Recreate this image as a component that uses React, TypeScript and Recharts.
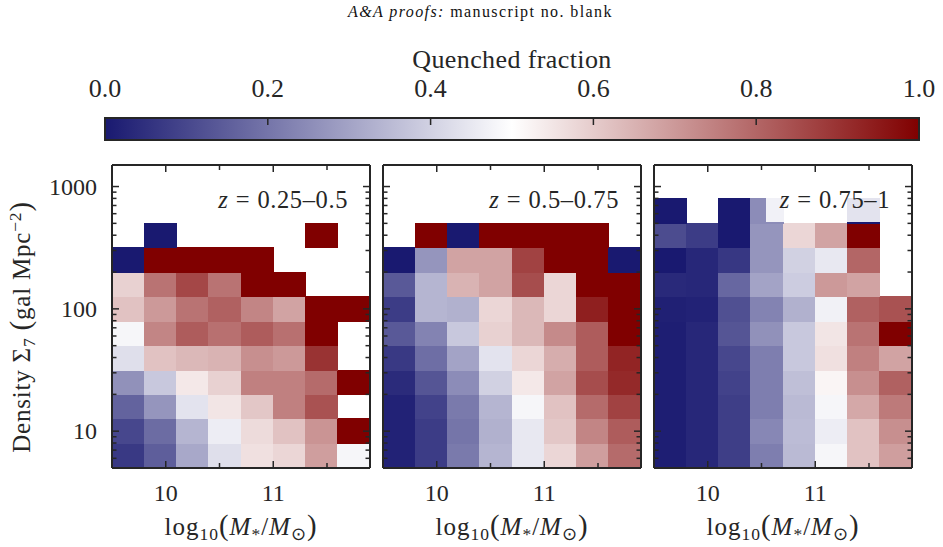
import React from 'react';
import { ComposedChart, XAxis, YAxis, ReferenceArea } from 'recharts';

const W = 943;
const H = 547;
const FONT = "'Liberation Serif', 'Times New Roman', serif";
const INK = '#262626';

// lower edges of the stellar-mass bins, log10(M*/Msun)
const massBins = [9.5, 9.8, 10.1, 10.4, 10.7, 11.0, 11.3, 11.6];
const massStep = 0.3;
const massDomain = [9.5, 11.9];
const massTicks = [10, 10.5, 11, 11.5];

// lower edges of the density bins, log10(Sigma_7 / gal Mpc^-2)
const densityBins = [0.7, 0.9, 1.1, 1.3, 1.5, 1.7, 1.9, 2.1, 2.3, 2.5, 2.7];
const densityStep = 0.2;
const densityDomain = [5, 1500];
const densityTicks = [6, 7, 8, 9, 10, 20, 30, 40, 50, 60, 70, 80, 90, 100, 200, 300, 400, 500, 600, 700, 800, 900, 1000];

// quenched fraction per bin: rows follow densityBins (low -> high), columns follow massBins
const fracZ1: (number | null)[][] = [
  [0.07, 0.15, 0.31, 0.43, 0.56, 0.58, 0.69, 0.48],
  [0.10, 0.18, 0.34, 0.46, 0.57, 0.62, 0.71, 1.00],
  [0.16, 0.27, 0.44, 0.55, 0.61, 0.75, 0.84, null],
  [0.26, 0.38, 0.545, 0.59, 0.75, 0.75, 0.79, 1.00],
  [0.43, 0.62, 0.64, 0.65, 0.72, 0.70, 0.90, null],
  [0.48, 0.74, 0.82, 0.78, 0.82, 0.78, 1.00, null],
  [0.62, 0.70, 0.775, 0.81, 0.74, 0.68, 1.00, 1.00],
  [0.59, 0.775, 0.86, 0.775, 1.00, 1.00, null, null],
  [0.00, 1.00, 1.00, 1.00, 1.00, null, null, null],
  [null, 0.00, null, null, null, null, 1.00, null],
  [null, null, null, null, null, null, null, null],
];

const fracZ2: (number | null)[][] = [
  [0.02, 0.076, 0.21, 0.34, 0.45, 0.58, 0.69, 0.79],
  [0.02, 0.076, 0.20, 0.33, 0.45, 0.61, 0.74, 0.82],
  [0.02, 0.09, 0.21, 0.34, 0.48, 0.62, 0.79, 0.87],
  [0.04, 0.13, 0.25, 0.40, 0.545, 0.68, 0.85, 0.92],
  [0.07, 0.185, 0.30, 0.44, 0.58, 0.66, 0.82, 0.93],
  [0.14, 0.23, 0.38, 0.59, 0.64, 0.73, 0.82, 1.00],
  [0.076, 0.34, 0.33, 0.58, 0.64, 0.58, 0.94, 1.00],
  [0.14, 0.34, 0.65, 0.68, 0.85, 0.58, 1.00, 1.00],
  [0.00, 0.27, 0.68, 0.68, 0.87, 1.00, 1.00, 0.00],
  [null, 1.00, 0.00, 1.00, 1.00, 1.00, 1.00, null],
  [null, null, null, null, null, null, null, null],
];

const fracZ3: (number | null)[][] = [
  [0.01, 0.03, 0.08, 0.22, 0.35, 0.48, 0.62, 0.69],
  [0.01, 0.03, 0.08, 0.24, 0.355, 0.46, 0.62, 0.72],
  [0.01, 0.03, 0.08, 0.22, 0.35, 0.48, 0.67, 0.76],
  [0.01, 0.03, 0.09, 0.22, 0.36, 0.52, 0.72, 0.81],
  [0.01, 0.03, 0.10, 0.22, 0.38, 0.56, 0.75, 0.68],
  [0.01, 0.03, 0.13, 0.26, 0.38, 0.55, 0.775, 1.00],
  [0.015, 0.02, 0.12, 0.23, 0.33, 0.47, 0.81, 0.84],
  [0.035, 0.03, 0.17, 0.30, 0.39, 0.70, 0.68, null],
  [0.00, 0.03, 0.065, 0.27, 0.40, 0.45, 0.80, null],
  [0.11, 0.076, 0.00, 0.27, 0.58, 0.68, 1.00, null],
  [0.00, null, 0.00, 0.25, null, null, 0.00, null],
];

const panelLabels = ['0.25–0.5', '0.5–0.75', '0.75–1'];
const colorbarTicks = [0, 0.2, 0.4, 0.6, 0.8, 1];

// diverging map: navy -> white -> maroon
const LOW = [25, 25, 112];
const MID = [255, 255, 255];
const HIGH = [128, 0, 0];

function fractionColor(v: number): string {
  const mix = (a: number[], b: number[], t: number) =>
    a.map((c, i) => Math.round(c + (b[i] - c) * t));
  const rgb = v <= 0.5 ? mix(LOW, MID, v / 0.5) : mix(MID, HIGH, (v - 0.5) / 0.5);
  return `rgb(${rgb[0]},${rgb[1]},${rgb[2]})`;
}

type Cell = { m0: number; m1: number; d0: number; d1: number; mc: number; dc: number; v: number };

function buildCells(grid: (number | null)[][]): Cell[] {
  const out: Cell[] = [];
  grid.forEach((row, r) => {
    row.forEach((v, c) => {
      if (v === null) return;
      out.push({
        m0: massBins[c],
        m1: massBins[c] + massStep,
        d0: Math.pow(10, densityBins[r]),
        d1: Math.pow(10, densityBins[r] + densityStep),
        mc: massBins[c] + massStep / 2,
        dc: Math.pow(10, densityBins[r] + densityStep / 2),
        v,
      });
    });
  });
  return out;
}

type TickProps = { x?: number; y?: number; payload?: { value: number } };

const isWhole = (v: number) => Math.abs(v - Math.round(v)) < 1e-6;

function MassTick(props: TickProps & { side: 'top' | 'bottom' }) {
  const { x = 0, y = 0, payload, side } = props;
  const v = payload ? payload.value : 0;
  const major = isWhole(v);
  const len = major ? 7 : 5;
  const dir = side === 'bottom' ? -1 : 1;
  return (
    <g>
      <line x1={x} x2={x} y1={y} y2={y + dir * len} stroke={INK} strokeWidth={1.5} />
      {major && side === 'bottom' && (
        <text x={x} y={y + 25} textAnchor="middle" dominantBaseline="central" fontSize={24} fill={INK} fontFamily={FONT}>
          {v}
        </text>
      )}
    </g>
  );
}

function DensityTick(props: TickProps & { side: 'left' | 'right'; labelled: boolean }) {
  const { x = 0, y = 0, payload, side, labelled } = props;
  const v = payload ? payload.value : 1;
  const major = isWhole(Math.log10(v));
  const len = major ? 7 : 4.5;
  const dir = side === 'left' ? 1 : -1;
  return (
    <g>
      <line x1={x} x2={x + dir * len} y1={y} y2={y} stroke={INK} strokeWidth={1.5} />
      {major && labelled && side === 'left' && (
        <text x={x - 15} y={y} textAnchor="end" dominantBaseline="central" fontSize={24} fill={INK} fontFamily={FONT}>
          {v}
        </text>
      )}
    </g>
  );
}

const PANEL_TOP = 165;
const PANEL_W = 258;
const PANEL_H = 303;
const panelLefts = [112, 383, 654];
const AX = 20; // room reserved for each axis strip

function Panel({ left, grid, labelled }: { left: number; grid: (number | null)[][]; labelled: boolean }) {
  const cells = buildCells(grid);
  const axisLine = { stroke: INK, strokeWidth: 2 };
  return (
    <div style={{ position: 'absolute', left: 0, top: 0 }}>
      <ComposedChart
        width={W}
        height={H}
        data={cells}
        margin={{
          top: PANEL_TOP - AX,
          left: left - AX,
          right: W - left - PANEL_W - AX,
          bottom: H - PANEL_TOP - PANEL_H - AX,
        }}
      >
        {cells.map((c, i) => {
          const col = fractionColor(c.v);
          return (
            <ReferenceArea
              key={i}
              xAxisId="bottom"
              yAxisId="left"
              x1={c.m0}
              x2={c.m1}
              y1={c.d0}
              y2={c.d1}
              fill={col}
              fillOpacity={1}
              stroke={col}
              strokeWidth={1}
              strokeOpacity={1}
              shapeRendering="crispEdges"
              ifOverflow="hidden"
            />
          );
        })}
        <XAxis
          xAxisId="bottom"
          dataKey="mc"
          type="number"
          orientation="bottom"
          domain={massDomain}
          allowDataOverflow
          ticks={massTicks}
          interval={0}
          height={AX}
          tickSize={0}
          tickMargin={0}
          tickLine={false}
          axisLine={axisLine}
          tick={(p: any) => <MassTick {...p} side="bottom" />}
        />
        <XAxis
          xAxisId="top"
          dataKey="mc"
          type="number"
          orientation="top"
          domain={massDomain}
          allowDataOverflow
          ticks={massTicks}
          interval={0}
          height={AX}
          tickSize={0}
          tickMargin={0}
          tickLine={false}
          axisLine={axisLine}
          tick={(p: any) => <MassTick {...p} side="top" />}
        />
        <YAxis
          yAxisId="left"
          dataKey="dc"
          type="number"
          scale="log"
          orientation="left"
          domain={densityDomain}
          allowDataOverflow
          ticks={densityTicks}
          interval={0}
          width={AX}
          tickSize={0}
          tickMargin={0}
          tickLine={false}
          axisLine={axisLine}
          tick={(p: any) => <DensityTick {...p} side="left" labelled={labelled} />}
        />
        <YAxis
          yAxisId="right"
          dataKey="dc"
          type="number"
          scale="log"
          orientation="right"
          domain={densityDomain}
          allowDataOverflow
          ticks={densityTicks}
          interval={0}
          width={AX}
          tickSize={0}
          tickMargin={0}
          tickLine={false}
          axisLine={axisLine}
          tick={(p: any) => <DensityTick {...p} side="right" labelled={false} />}
        />
      </ComposedChart>
    </div>
  );
}

function ColorbarTick(props: TickProps) {
  const { x = 0, y = 0, payload } = props;
  const v = payload ? payload.value : 0;
  return (
    <g>
      <line x1={x} x2={x} y1={y} y2={y + 7} stroke={INK} strokeWidth={1.5} />
      <text x={x} y={y - 30} textAnchor="middle" dominantBaseline="central" fontSize={26} fill={INK} fontFamily={FONT}>
        {v.toFixed(1)}
      </text>
    </g>
  );
}

const CB_LEFT = 105;
const CB_RIGHT = 919;
const CB_TOP = 118;
const CB_BOTTOM = 140;

function Colorbar() {
  const levels = colorbarTicks.map((v) => ({ v }));
  return (
    <div style={{ position: 'absolute', left: 0, top: 0 }}>
      <ComposedChart
        width={W}
        height={H}
        data={levels}
        margin={{ top: CB_TOP - AX, left: CB_LEFT, right: W - CB_RIGHT, bottom: H - CB_BOTTOM }}
      >
        <defs>
          <linearGradient id="quenchedGradient" x1="0" x2="1" y1="0" y2="0">
            <stop offset="0%" stopColor={fractionColor(0)} />
            <stop offset="50%" stopColor={fractionColor(0.5)} />
            <stop offset="100%" stopColor={fractionColor(1)} />
          </linearGradient>
        </defs>
        <ReferenceArea
          xAxisId="cb"
          yAxisId="cb"
          x1={0}
          x2={1}
          y1={0}
          y2={1}
          fill="url(#quenchedGradient)"
          fillOpacity={1}
          stroke={INK}
          strokeWidth={2}
          ifOverflow="visible"
        />
        <XAxis
          xAxisId="cb"
          dataKey="v"
          type="number"
          orientation="top"
          domain={[0, 1]}
          allowDataOverflow
          ticks={colorbarTicks}
          interval={0}
          height={AX}
          tickSize={0}
          tickMargin={0}
          tickLine={false}
          axisLine={false}
          tick={(p: any) => <ColorbarTick {...p} />}
        />
        <YAxis yAxisId="cb" dataKey="v" type="number" domain={[0, 1]} allowDataOverflow hide />
      </ComposedChart>
    </div>
  );
}

const textBase: React.CSSProperties = {
  position: 'absolute',
  fontFamily: FONT,
  color: INK,
  whiteSpace: 'nowrap',
};

const sub: React.CSSProperties = { fontSize: '0.7em', verticalAlign: '-0.3em' };
const sup: React.CSSProperties = { fontSize: '0.7em', verticalAlign: '0.5em' };
const paren: React.CSSProperties = { fontSize: '1.15em' };

export default function App() {
  const grids = [fracZ1, fracZ2, fracZ3];
  return (
    <div style={{ position: 'absolute', left: 0, top: 0, width: W, height: H, background: '#fff', overflow: 'hidden' }}>
      <div style={{ ...textBase, left: 348, top: 3, fontSize: 16, letterSpacing: 1.4, color: '#111' }}>
        <i>A&amp;A proofs:</i> manuscript no. blank
      </div>
      <div style={{ ...textBase, left: CB_LEFT, width: CB_RIGHT - CB_LEFT, top: 45, textAlign: 'center', fontSize: 26, letterSpacing: 0.4 }}>
        Quenched fraction
      </div>
      <Colorbar />
      {grids.map((g, i) => (
        <Panel key={i} left={panelLefts[i]} grid={g} labelled={i === 0} />
      ))}
      {panelLabels.map((lab, i) => (
        <div
          key={'z' + i}
          style={{
            ...textBase,
            right: W - (panelLefts[i] + PANEL_W - 8),
            top: 178,
            height: 44,
            lineHeight: '44px',
            padding: '0 14px',
            fontSize: 24.5,
            letterSpacing: 0.6,
            background: 'rgba(255,255,255,0.88)',
          }}
        >
          <i>z</i>
          <span style={{ margin: '0 0.3em' }}>=</span>
          {lab}
        </div>
      ))}
      {panelLefts.map((l, i) => (
        <div
          key={'xl' + i}
          style={{ ...textBase, left: l, width: PANEL_W, top: 509, textAlign: 'center', fontSize: 25, letterSpacing: 1 }}
        >
          log<span style={sub}>10</span>
          <span style={paren}>(</span>
          <i>M</i>
          <span style={sub}>*</span>/<i>M</i>
          <span style={sub}>⊙</span>
          <span style={paren}>)</span>
        </div>
      ))}
      <div
        style={{
          ...textBase,
          left: 22 - 170,
          width: 340,
          top: 320 - 16,
          textAlign: 'center',
          fontSize: 25,
          letterSpacing: 0.8,
          lineHeight: '32px',
          transform: 'rotate(-90deg)',
        }}
      >
        Density Σ<span style={sub}>7</span> <span style={paren}>(</span>gal Mpc<span style={sup}>−2</span>
        <span style={paren}>)</span>
      </div>
    </div>
  );
}
